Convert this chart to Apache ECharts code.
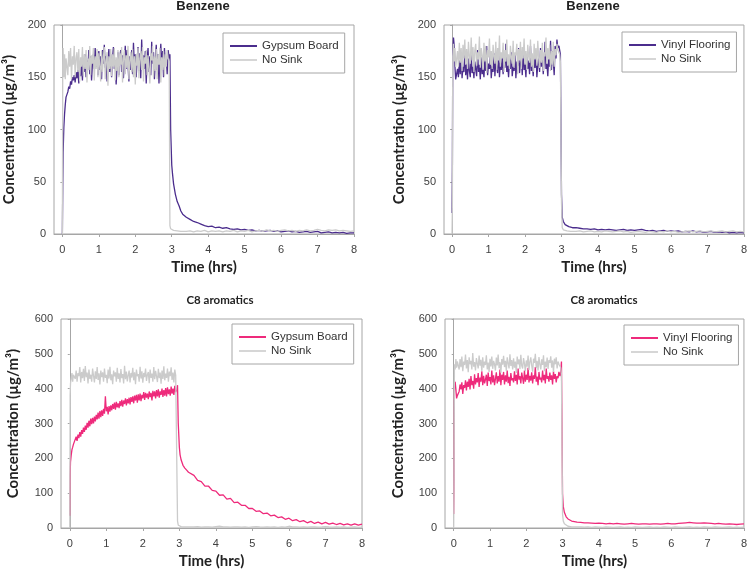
<!DOCTYPE html>
<html>
<head>
<meta charset="utf-8">
<script src="https://cdn.jsdelivr.net/npm/echarts@6/dist/echarts.min.js"></script>
<style>
html,body{margin:0;padding:0;background:#fff;}
#c{width:750px;height:571px;}
</style>
</head>
<body>
<div id="c"></div>
<script>
// Time grid (hrs)
var T = [
0, 0.01, 0.02, 0.04, 0.06, 0.08, 0.1,
0.15, 0.175, 0.2, 0.225, 0.25, 0.275, 0.3, 0.325, 0.35, 0.375,
0.4, 0.425, 0.45, 0.475, 0.5, 0.525, 0.55, 0.575, 0.6, 0.625,
0.65, 0.675, 0.7, 0.725, 0.75, 0.775, 0.8, 0.825, 0.85, 0.875,
0.9, 0.925, 0.95, 0.975, 1.0, 1.025, 1.05, 1.075, 1.1, 1.125,
1.15, 1.175, 1.2, 1.225, 1.25, 1.275, 1.3, 1.325, 1.35, 1.375,
1.4, 1.425, 1.45, 1.475, 1.5, 1.525, 1.55, 1.575, 1.6, 1.625,
1.65, 1.675, 1.7, 1.725, 1.75, 1.775, 1.8, 1.825, 1.85, 1.875,
1.9, 1.925, 1.95, 1.975, 2.0, 2.025, 2.05, 2.075, 2.1, 2.125,
2.15, 2.175, 2.2, 2.225, 2.25, 2.275, 2.3, 2.325, 2.35, 2.375,
2.4, 2.425, 2.45, 2.475, 2.5, 2.525, 2.55, 2.575, 2.6, 2.625,
2.65, 2.675, 2.7, 2.725, 2.75, 2.775, 2.8, 2.825, 2.85, 2.875,
2.9,
2.93, 2.95, 2.97, 3.0, 3.02, 3.05, 3.1, 3.15, 3.2, 3.25, 3.3,
3.4, 3.5, 3.6, 3.7, 3.8, 3.9, 4.0, 4.1, 4.2, 4.3,
4.4, 4.5, 4.6, 4.7, 4.8, 4.9, 5.0, 5.1, 5.2, 5.3,
5.4, 5.5, 5.6, 5.7, 5.8, 5.9, 6.0, 6.1, 6.2, 6.3,
6.4, 6.5, 6.6, 6.7, 6.8, 6.9, 7.0, 7.1, 7.2, 7.3,
7.4, 7.5, 7.6, 7.7, 7.8, 7.9, 8.0
];

// Benzene – Gypsum Board (µg/m³)
var benzGypsum = [
0, 45, 78, 102, 115, 124, 131,
136, 141, 139, 146, 143, 150, 147, 152, 145, 155,
149, 157, 144, 160, 151, 162, 147, 168, 155, 172,
150, 166, 158, 176, 153, 170, 147, 163, 172, 158,
178, 160, 168, 152, 175, 157, 170, 148, 176, 163,
181, 159, 170, 146, 165, 177, 155, 172, 150, 168,
179, 158, 166, 143, 160, 174, 152, 169, 176, 155,
171, 149, 165, 180, 158, 176, 162, 146, 170, 157,
176, 153, 183, 161, 172, 150, 167, 179, 156, 173,
149, 186, 160, 171, 158, 175, 144, 168, 178, 155,
170, 152, 184, 163, 174, 148, 166, 181, 157, 172,
144, 168, 182, 159, 175, 150, 178, 161, 170, 153,
176,
168, 172, 100, 66, 58, 48, 38, 31, 27, 22, 19,
16, 14, 12, 11, 9.5, 8, 7, 7.5, 6, 6.5,
5.5, 6, 5, 4.5, 5, 4, 4.5, 3.5, 4, 3,
3.5, 2.5, 3, 3.5, 2.5, 3, 2, 2.5, 3, 2,
2.5, 1.5, 2, 2.5, 1.5, 2, 2.5, 1, 1.5, 2,
1, 1.5, 1, 1.5, 0.5, 1, 1
];
// Benzene – No Sink (gypsum test)
var benzNoSinkA = [
0, 160, 178, 150, 172, 148, 168,
152, 175, 160, 178, 148, 170, 162, 180, 150, 168,
174, 155, 177, 146, 169, 160, 179, 151, 172, 158,
176, 145, 168, 157, 180, 152, 171, 163, 178, 147,
170, 158, 177, 150, 173, 161, 146, 175, 155, 169,
179, 148, 166, 174, 142, 170, 158, 177, 151, 172,
160, 178, 147, 169, 156, 176, 150, 173, 162, 179,
145, 168, 176, 153, 171, 159, 180, 148, 166, 174,
155, 177, 150, 170, 143, 172, 161, 178, 149, 168,
175, 157, 179, 146, 169, 163, 176, 152, 171, 158,
144, 173, 166, 180, 150, 170, 156, 177, 148, 172,
162, 178, 145, 169, 157, 175, 151, 172, 160, 176,
168,
165, 8, 5, 4, 4.5, 3.5, 4, 3, 3.5, 2.5, 3,
2.5, 3, 2, 3, 2.5, 3.5, 2, 3, 2.5, 3,
2, 3, 2.5, 3.5, 2, 3, 2.5, 3.5, 2, 3,
3.5, 2.5, 4, 3, 3.5, 2.5, 3.5, 4, 3, 3.5,
2.5, 3.5, 3, 4, 3, 3.5, 4.5, 3.5, 3, 4,
3.5, 4, 3, 3.5, 3, 2.5, 3
];
// Benzene – Vinyl Flooring
var benzVinyl = [
20, 65, 172, 188, 180, 160, 148,
158, 150, 166, 153, 171, 149, 160, 155, 174, 152,
163, 148, 168, 156, 150, 172, 154, 160, 149, 165,
157, 151, 176, 155, 162, 148, 169, 153, 158, 150,
167, 156, 180, 152, 163, 158, 171, 149, 161, 155,
173, 151, 166, 160, 154, 177, 150, 164, 157, 170,
153, 168, 159, 182, 155, 162, 150, 167, 158, 174,
151, 160, 156, 172, 149, 165, 161, 178, 154, 163,
168, 152, 176, 157, 163, 150, 171, 158, 166, 153,
180, 156, 164, 151, 170, 159, 175, 150, 162, 168,
155, 178, 160, 172, 153, 166, 184, 158, 163, 151,
170, 160, 185, 157, 175, 165, 152, 180, 168, 186,
178,
180, 176, 172, 38, 16, 12, 9, 8, 7, 6.5, 6,
6, 5.5, 5, 5, 4.5, 5, 4, 4.5, 4, 4.5,
4, 3.5, 4, 4.5, 3.5, 4, 3.5, 4, 4.5, 3.5,
3, 3.5, 2.5, 3, 3.5, 2.5, 3, 2.5, 3, 2,
2.5, 2, 3, 2, 2.5, 1.5, 2, 2.5, 1.5, 2,
1.5, 2, 1, 1.5, 1, 1.5, 1
];
// Benzene – No Sink (vinyl test)
var benzNoSinkB = [
0, 30, 170, 182, 165, 178, 160,
175, 160, 183, 164, 178, 156, 181, 168, 186, 162,
177, 158, 184, 170, 163, 188, 166, 179, 155, 176,
182, 161, 174, 167, 189, 159, 178, 171, 157, 183,
165, 180, 154, 176, 169, 187, 162, 175, 158, 181,
170, 163, 184, 157, 178, 166, 190, 160, 174, 168,
183, 155, 176, 165, 186, 161, 172, 158, 180, 169,
163, 185, 159, 174, 171, 182, 153, 177, 166, 184,
158, 179, 168, 187, 162, 175, 157, 181, 170, 164,
186, 160, 173, 155, 182, 167, 178, 161, 185, 169,
159, 176, 164, 183, 156, 174, 170, 188, 163, 178,
167, 181, 156, 175, 162, 184, 160, 177, 171, 182,
176,
176, 172, 165, 30, 6, 4, 3.5, 3, 3.5, 2.5, 3,
2.5, 3, 2, 2.5, 3, 2, 2.5, 2, 3, 2.5,
2, 2.5, 3, 2, 2.5, 1.5, 2, 2.5, 2, 1.5,
2.5, 2, 1.5, 2.5, 2, 3, 2, 2.5, 1.5, 2,
2.5, 3, 2, 2.5, 3, 2, 2.5, 3, 2, 2.5,
3, 2, 2.5, 3, 2, 2.5, 2
];
// C8 aromatics – Gypsum Board
var c8Gypsum = [
35, 150, 190, 210, 225, 232, 240,
245, 262, 250, 268, 258, 275, 262, 281, 270, 288,
276, 294, 282, 302, 288, 308, 292, 314, 298, 316,
300, 320, 306, 325, 312, 331, 314, 336, 318, 338,
322, 342, 328, 378, 335, 348, 326, 350, 334, 352,
338, 356, 342, 360, 340, 362, 346, 358, 344, 364,
350, 368, 348, 366, 356, 372, 352, 370, 358, 374,
355, 376, 362, 378, 358, 380, 366, 382, 360, 384,
366, 386, 364, 382, 372, 390, 368, 388, 374, 386,
370, 392, 376, 388, 366, 394, 378, 392, 372, 396,
378, 398, 374, 392, 382, 400, 376, 396, 380, 402,
378, 404, 384, 398, 380, 406, 386, 400, 382, 408,
390,
396, 410, 300, 232, 210, 195, 180, 172, 166, 160, 155,
151, 137, 133, 120, 120, 108, 106, 94, 95, 83,
85, 73, 74, 65, 65, 56, 56, 48, 49, 41,
43, 35, 37, 30, 32, 25, 28, 21, 24, 18,
21, 15, 19, 13, 17, 12, 16, 11, 14, 10,
13, 9, 12, 8, 12, 8, 11
];
// C8 aromatics – No Sink (gypsum test)
var c8NoSinkA = [
0, 380, 415, 430, 445, 420, 440,
428, 452, 420, 445, 436, 462, 418, 448, 430, 457,
422, 465, 433, 446, 415, 455, 428, 440, 420, 458,
437, 418, 450, 428, 462, 425, 444, 412, 452, 433,
447, 420, 458, 431, 440, 416, 455, 429, 463, 424,
441, 413, 452, 435, 447, 420, 460, 428, 444, 418,
456, 430, 442, 415, 466, 427, 449, 421, 438, 452,
418, 445, 432, 460, 424, 447, 413, 455, 436, 442,
420, 463, 429, 450, 417, 445, 433, 458, 422, 440,
448, 416, 455, 431, 443, 420, 462, 427, 451, 435,
419, 457, 430, 446, 414, 452, 428, 464, 424, 443,
431, 458, 420, 449, 436, 461, 425, 446, 418, 455,
438,
440, 20, 8, 6, 5, 4, 4.5, 3.5, 4, 3, 3.5,
3, 4, 2.5, 3, 3.5, 2.5, 4, 5, 3, 3.5,
2.5, 3, 3.5, 2.5, 3, 2, 3.5, 4, 3, 2.5,
3, 2.5, 3.5, 2, 3, 2.5, 5, 3.5, 3, 2.5,
3, 2.5, 3.5, 3, 2.5, 3, 4, 3, 2.5, 3,
2.5, 3, 2, 2.5, 3, 2, 2.5
];
// C8 aromatics – Vinyl Flooring
var c8Vinyl = [
40, 140, 405, 420, 398, 372, 380,
392, 412, 398, 418, 385, 410, 402, 424, 395, 420,
405, 428, 398, 436, 410, 422, 400, 441, 412, 430,
418, 445, 405, 432, 420, 450, 410, 437, 415, 426,
440, 408, 446, 422, 433, 412, 452, 418, 438, 410,
428, 447, 415, 436, 420, 455, 410, 440, 425, 448,
412, 438, 420, 452, 416, 434, 408, 445, 424, 430,
418, 450, 422, 440, 412, 458, 426, 436, 415, 446,
430, 414, 452, 420, 440, 425, 460, 418, 437, 423,
447, 415, 438, 428, 462, 420, 435, 410, 448, 426,
432, 418, 452, 424, 440, 415, 458, 428, 436, 420,
446, 425, 438, 412, 450, 428, 442, 418, 436, 430,
448,
436, 448, 478, 98, 62, 45, 32, 26, 22, 20, 18,
17, 16, 15, 15, 14, 13, 14, 13, 12, 13,
12, 13, 12, 11, 12, 13, 12, 11, 12, 12,
11, 12, 12, 11, 12, 13, 12, 12, 13, 14,
15, 16, 15, 14, 14, 15, 14, 13, 12, 13,
12, 11, 12, 11, 10, 11, 12
];
// C8 aromatics – No Sink (vinyl test)
var c8NoSinkB = [
0, 150, 470, 455, 485, 460, 478,
455, 485, 462, 492, 450, 478, 468, 498, 458, 482,
447, 490, 470, 480, 455, 502, 463, 476, 452, 488,
472, 458, 495, 466, 483, 450, 490, 460, 478, 468,
496, 455, 475, 448, 486, 464, 492, 457, 480, 470,
452, 489, 467, 498, 459, 476, 446, 485, 469, 494,
462, 480, 451, 490, 473, 458, 499, 465, 482, 455,
487, 460, 478, 445, 492, 470, 484, 456, 497, 466,
458, 488, 472, 450, 481, 463, 495, 454, 477, 490,
466, 449, 486, 474, 500, 459, 480, 452, 491, 470,
455, 484, 468, 496, 450, 478, 462, 489, 457, 482,
474, 493, 460, 481, 448, 486, 470, 490, 458, 478,
470,
470, 460, 440, 40, 20, 12, 7, 5, 4, 3.5, 3,
3, 3.5, 2.5, 3, 2, 3, 2.5, 2, 3, 2.5,
2, 2.5, 3, 2, 2.5, 2, 3, 2.5, 2, 2.5,
3, 2, 2.5, 2, 3, 2.5, 2, 3, 2.5, 2,
2.5, 3, 2, 2.5, 2, 3, 2.5, 2, 3, 2.5,
2, 2.5, 3, 2, 2.5, 2, 2.5
];

var xTicks = [0, 1, 2, 3, 4, 5, 6, 7, 8];
var panelTitles = ['Benzene', 'Benzene', 'C8 aromatics', 'C8 aromatics'];
var sinkNames = ['Gypsum Board', 'Vinyl Flooring', 'Gypsum Board', 'Vinyl Flooring'];
var noSinkName = 'No Sink';
var yMax = [200, 200, 600, 600];
var yStep = [50, 50, 100, 100];

var PURPLE = '#4b2d8d', PINK = '#ee2a7b', GRAY = '#cbcbcb', LEG_GRAY = '#d6d6d6';
var AX = '#a6a6a6';
var grids = [
  {left: 54, top: 25, width: 300, height: 209},
  {left: 444, top: 25, width: 301, height: 209},
  {left: 61, top: 319, width: 301, height: 209},
  {left: 445, top: 319, width: 302, height: 209}
];
var xMin = [-0.23, -0.22, -0.24, -0.24];
var nameGapY = [37, 37, 40, 39];
var titlePos = [[203, 0], [593, 0], [220, 294], [604, 294]];
var legendPos = [[223, 33], [622, 32], [232, 324], [624, 325]];

function pairs(v) { return T.map(function (t, i) { return [t, v[i]]; }); }

var sinkData = [benzGypsum, benzVinyl, c8Gypsum, c8Vinyl];
var noSinkData = [benzNoSinkA, benzNoSinkB, c8NoSinkA, c8NoSinkB];
var sinkColor = [PURPLE, PURPLE, PINK, PINK];

var option = {
  backgroundColor: '#fff',
  animation: false,
  title: [], grid: [], xAxis: [], yAxis: [], legend: [], series: []
};

for (var k = 0; k < 4; k++) {
  // internal ids keep each panel's legend colour separate; shown text is the plain name
  var sid = sinkNames[k] + '#' + k, nid = noSinkName + '#' + k;
  option.title.push({
    text: panelTitles[k], left: titlePos[k][0], top: titlePos[k][1], textAlign: 'center', padding: 0,
    textStyle: k < 2 ? {fontFamily: 'Liberation Sans', fontWeight: 'bold', fontSize: 13, color: '#222'}
                     : {fontFamily: 'Lato', fontWeight: 'bold', fontSize: 11.5, color: '#222'}
  });
  option.grid.push(Object.assign({show: true, borderColor: AX, borderWidth: 1, backgroundColor: 'transparent'}, grids[k]));
  option.xAxis.push({
    type: 'value', gridIndex: k, min: xMin[k], max: 8,
    name: 'Time (hrs)', nameLocation: 'middle', nameGap: 26,
    nameTextStyle: {fontFamily: 'Lato', fontWeight: 'bold', fontSize: 15, color: '#222'},
    axisLine: {show: true, onZero: false, lineStyle: {color: AX}},
    axisTick: {show: true, length: 3, customValues: xTicks, lineStyle: {color: AX}},
    axisLabel: {customValues: xTicks, margin: 10, fontFamily: 'Liberation Sans', fontSize: 11, color: '#404040'},
    splitLine: {show: false}
  });
  option.yAxis.push({
    type: 'value', gridIndex: k, min: 0, max: yMax[k], interval: yStep[k],
    name: 'Concentration (µg/m³)', nameLocation: 'middle', nameGap: nameGapY[k],
    nameTextStyle: {fontFamily: 'Lato', fontWeight: 'bold', fontSize: 15, color: '#222'},
    axisLine: {show: true, lineStyle: {color: AX}},
    axisTick: {show: true, length: 2, lineStyle: {color: AX}},
    axisLabel: {margin: 8, fontFamily: 'Liberation Sans', fontSize: 11, color: '#404040'},
    splitLine: {show: false}
  });
  option.legend.push({
    data: [
      {name: sid, itemStyle: {color: sinkColor[k]}},
      {name: nid, itemStyle: {color: LEG_GRAY}}
    ],
    formatter: function (n) { return n.split('#')[0]; },
    orient: 'vertical',
    left: legendPos[k][0], top: legendPos[k][1],
    padding: [6, 6, 6, 7], itemGap: 0, itemWidth: 27, itemHeight: 2, icon: 'rect',
    borderColor: AX, borderWidth: 1, backgroundColor: '#fff', selectedMode: false,
    textStyle: {fontFamily: 'Liberation Sans', fontSize: 11.5, color: '#333', lineHeight: 14}
  });
  option.series.push({
    type: 'line', name: sid, xAxisIndex: k, yAxisIndex: k,
    data: pairs(sinkData[k]), showSymbol: false, symbol: 'none',
    color: sinkColor[k], lineStyle: {color: sinkColor[k], width: 1.3}
  });
  option.series.push({
    type: 'line', name: nid, xAxisIndex: k, yAxisIndex: k,
    data: pairs(noSinkData[k]), showSymbol: false, symbol: 'none',
    color: GRAY, lineStyle: {color: GRAY, width: 1.3}
  });
}

var chart = echarts.init(document.getElementById('c'), null, {renderer: 'canvas'});
chart.setOption(option);
</script>
</body>
</html>
